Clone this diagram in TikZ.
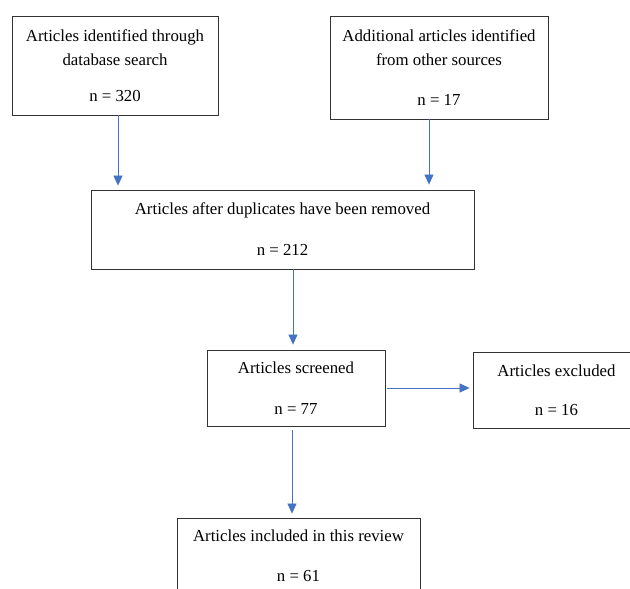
\documentclass[tikz,border=0pt]{standalone}
\usepackage{fontspec}
\setmainfont{Liberation Serif}
\usetikzlibrary{calc}
\usetikzlibrary{arrows.meta}
\definecolor{flowblue}{RGB}{68,114,196}

\begin{document}
\begin{tikzpicture}[
		x=1pt, y=-1pt,
		>={Triangle[length=10pt,width=9pt]},
		box/.style={draw=black!80, line width=0.8pt, align=center, inner sep=0pt,
			font=\fontsize{16.8}{24}\selectfont},
		flow/.style={->, draw=flowblue, fill=flowblue, line width=0.7pt},
	]
	\useasboundingbox (0,0) rectangle (630,589);
	\clip (0,0) rectangle (630,589);
	% boxes
	\node[box, minimum width=206pt, minimum height=99pt] (identified) at (115,65.5)
		{Articles identified through\\database search\\[12pt]n = 320};
	\node[box, minimum width=218pt, minimum height=103pt] (other) at (439,67.5)
		{Additional articles identified\\from other sources\\[16pt]n = 17};
	\node[box, minimum width=383pt, minimum height=79pt] (removed) at (282.5,229.5)
		{Articles after duplicates have been removed\\[17pt]n = 212};
	\node[box, minimum width=178pt, minimum height=76pt] (screened) at (296,388)
		{Articles screened\\[17pt]n = 77};
	\node[box, minimum width=167pt, minimum height=76pt] (excluded) at (556.5,390)
		{Articles excluded\\[15pt]n = 16};
	\node[box, minimum width=243pt, minimum height=76pt] (included) at (298.5,556)
		{Articles included in this review\\[16pt]n = 61};
	% arrows
	\draw[flow, shorten >=4pt] ([xshift=3pt]identified.south) -- ([xshift=3pt]identified.south |- removed.north);
	\draw[flow, shorten >=5pt] ([xshift=-10pt]other.south) -- ([xshift=-10pt]other.south |- removed.north);
	\draw[flow, shorten >=5pt] ([xshift=-3pt]screened.north |- removed.south) -- ([xshift=-3pt]screened.north);
	\draw[flow, shorten <=2pt, shorten >=3pt] (screened.east) -- (excluded.west |- screened.east);
	\draw[flow, shorten <=4pt, shorten >=4pt] ([xshift=-4pt]screened.south) -- ([xshift=-4pt]screened.south |- included.north);
\end{tikzpicture}
\end{document}
